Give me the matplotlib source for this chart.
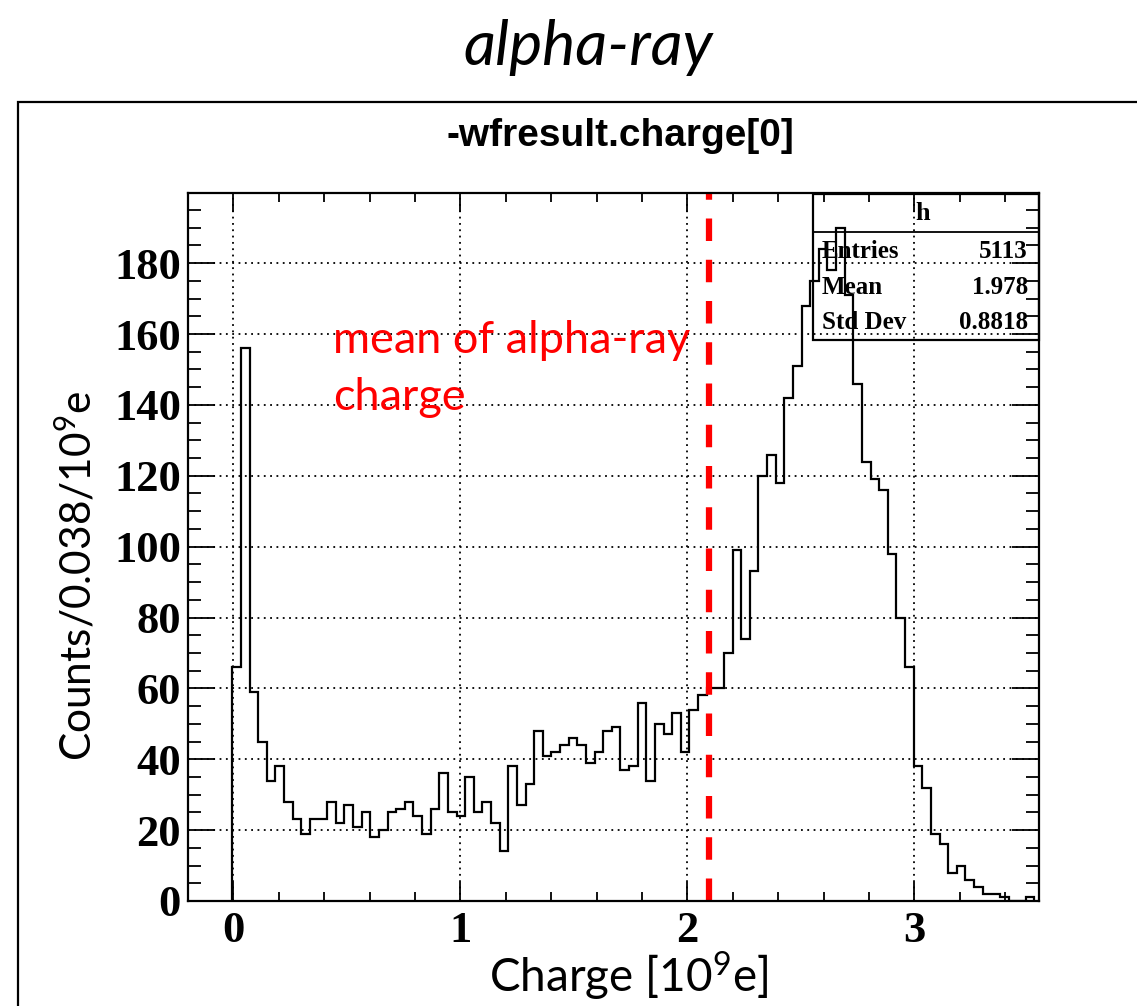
import numpy as np
import matplotlib
matplotlib.use("Agg")
import matplotlib.pyplot as plt
from matplotlib.patches import Rectangle
from matplotlib.lines import Line2D

# ---------------- data ----------------
bin_start = -0.005
bin_width = 0.038
counts = [66, 156, 59, 45, 34, 38, 28, 23, 19, 23,
          23, 28, 22, 27, 21, 25, 18, 20, 25, 26,
          28, 24, 19, 26, 36, 25, 24, 35, 25, 28,
          22, 14, 38, 27, 33, 48, 41, 42, 44, 46,
          44, 39, 42, 48, 49, 37, 38, 56, 34, 50,
          47, 53, 42, 54, 58, 60, 60, 70, 99, 74,
          93, 120, 126, 118, 142, 151, 168, 175, 184, 178,
          190, 171, 146, 124, 119, 116, 98, 80, 66, 38,
          32, 19, 16, 8, 10, 6, 4, 2, 2, 1,
          0, 0, 1]
mean_line_x = 2.095
x_ticks = [0, 1, 2, 3]
y_ticks = [0, 20, 40, 60, 80, 100, 120, 140, 160, 180]
stats_labels = ["Entries", "Mean", "Std Dev"]
stats_values = ["5113", "1.978", "0.8818"]
annotation_lines = ["mean of alpha-ray", "charge"]

# ---------------- figure ----------------
W, H = 1137, 1006
DPI = 100
plt.rcParams['mathtext.fontset'] = 'custom'
plt.rcParams['mathtext.rm'] = 'Lato'
plt.rcParams['mathtext.it'] = 'Lato:italic'
plt.rcParams['mathtext.bf'] = 'Lato:bold'

fig = plt.figure(figsize=(W / DPI, H / DPI), dpi=DPI)

def fx(px):
    return px / W

def fy(py):
    return 1 - py / H

# outer pad border
fig.add_artist(Rectangle((fx(18), fy(1010)), fx(1140) - fx(18), fy(102) - fy(1010),
                         transform=fig.transFigure, fill=False, ec='black', lw=1.6,
                         clip_on=False))

L, R, T, B = 188, 1039, 193, 901
ax = fig.add_axes([fx(L), fy(B), fx(R) - fx(L), fy(T) - fy(B)])

edges = bin_start + bin_width * np.arange(len(counts) + 1)
ax.stairs(counts, edges, baseline=0, color='black', lw=1.6)

ax.set_xlim(-0.2, 3.549)
ax.set_ylim(0, 199.8)

ax.axvline(mean_line_x, color='#ff0000', lw=4.5, dashes=(3.6, 3.0))

ax.set_xticks(x_ticks)
ax.set_yticks(y_ticks)
ax.set_xticks(np.arange(-0.2, 3.55, 0.2), minor=True)
ax.set_yticks(np.arange(0, 200, 5), minor=True)
ax.grid(True, which='major', color='black', linestyle=(0, (1, 2.5)), lw=1.3)

ax.tick_params(axis='both', which='both', direction='in', top=True, right=True,
               width=1.3, color='black')
ax.tick_params(axis='y', which='major', length=19.5)
ax.tick_params(axis='y', which='minor', length=9.7)
ax.tick_params(axis='x', which='major', length=13.5)
ax.tick_params(axis='x', which='minor', length=6.8)
ax.tick_params(axis='x', which='major', pad=7)
ax.tick_params(axis='y', which='major', pad=5)

for lab in ax.get_xticklabels() + ax.get_yticklabels():
    lab.set_fontfamily('Liberation Serif')
    lab.set_fontweight('bold')
    lab.set_fontsize(32)

for s in ax.spines.values():
    s.set_linewidth(1.6)

# red annotation (two lines, placed separately for the wide line gap)
for line, base in zip(annotation_lines, [353, 410]):
    fig.text(fx(333), fy(base), line, color='#ff0000', fontsize=32.5,
             family='Lato', ha='left', va='baseline')

# titles and labels
fig.text(fx(588), fy(47), "alpha-ray", ha='center', va='center', fontsize=45,
         family='Lato', style='italic')
fig.text(fx(620), fy(136), "-wfresult.charge[0]", ha='center', va='center',
         fontsize=28, family='Liberation Sans', weight='bold')
fig.text(fx(629), fy(976), r"Charge [10$^\mathregular{9}$e]", ha='center', va='center',
         fontsize=33, family='Lato')
fig.text(fx(76), fy(576), r"Counts/0.038/10$^\mathregular{9}$e", ha='center', va='center',
         fontsize=30.5, family='Lato', rotation=90)

# stats box
bx0, bx1, by0, by1 = 813, 1039, 194, 340
fig.add_artist(Rectangle((fx(bx0), fy(by1)), fx(bx1) - fx(bx0), fy(by0) - fy(by1),
                         transform=fig.transFigure, fill=False, ec='black', lw=1.6))
fig.add_artist(Line2D([fx(bx0), fx(bx1)], [fy(232), fy(232)], transform=fig.transFigure,
                      color='black', lw=1.3))
fig.text(fx(923), fy(214), "h", ha='center', va='center', fontsize=19,
         family='Liberation Serif', weight='bold')
for lab, val, yy in zip(stats_labels, stats_values, [251, 288, 323]):
    fig.text(fx(822), fy(yy), lab, ha='left', va='center', fontsize=18,
             family='Liberation Serif', weight='bold')
    fig.text(fx(1028), fy(yy), val, ha='right', va='center', fontsize=18,
             family='Liberation Serif', weight='bold')

fig.savefig("out.png", dpi=DPI)
